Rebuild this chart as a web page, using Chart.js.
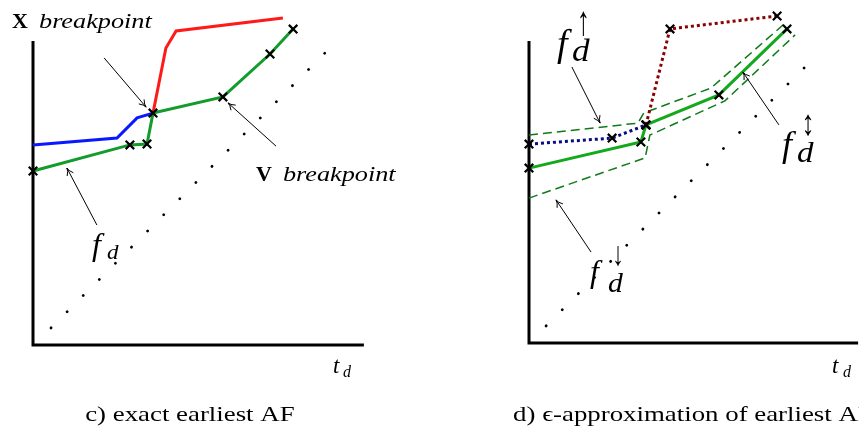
<!DOCTYPE html>
<html>
<head>
<meta charset="utf-8">
<script src="https://cdn.jsdelivr.net/npm/chart.js@4.4.1/dist/chart.umd.min.js"></script>
<style>
  html, body { margin: 0; padding: 0; background: #fff; }
  #wrap { position: relative; width: 863px; height: 433px; overflow: hidden; }
  canvas { position: absolute; top: 0; }
</style>
</head>
<body>
<div id="wrap">
  <canvas id="panel-c" width="431" height="433" style="left:0"></canvas>
  <canvas id="panel-d" width="432" height="433" style="left:431px"></canvas>
</div>
<script>
// values in plot units (origin = corner of the axes)
// c) exact earliest AF
const cExact = [[0, 5.8], [3.23, 6.67], [3.8, 6.7], [4.0, 7.73], [6.33, 8.27], [7.9, 9.7], [8.67, 10.53]];
const cViaV = [[0, 6.67], [2.8, 6.9], [3.47, 7.57], [4.0, 7.73]];
const cViaX = [[4.0, 7.73], [4.43, 9.9], [4.77, 10.47], [8.33, 10.9]];
const cDiagonal = [[0.6, 0.57], [9.73, 9.73]];

// d) epsilon-approximation
const dMid = [[0, 5.83], [3.73, 6.7], [3.9, 7.27], [6.33, 8.27], [8.6, 10.47]];
const dLowerPart = [[0, 6.63], [2.77, 6.83], [3.9, 7.27]];
const dUpperPart = [[3.9, 7.27], [4.7, 10.47], [8.27, 10.9]];
const dBandTop = [[0, 6.93], [3.63, 7.33], [3.83, 7.67], [6.07, 8.5], [8.5, 10.63]];
const dBandBottom = [[0, 4.83], [3.87, 6.17], [4.03, 6.93], [6.53, 8.07], [8.87, 10.27]];
const dDiagonal = [[0.57, 0.57], [9.67, 9.67]];

const PX = 30;          // pixels per unit
const H = 433;
const serif = '"Liberation Serif", "DejaVu Serif", serif';

const pts = (arr) => arr.map(([x, y]) => ({ x, y }));

const cross = {
  pointStyle: 'crossRot',
  pointRadius: 6,
  pointBorderColor: '#000',
  pointBorderWidth: 2.2,
};
const noPoints = { pointRadius: 0 };

function dots(data) {
  return {
    data: pts(data), borderColor: '#000', borderWidth: 2.8,
    borderDash: [0.1, 22.7], borderCapStyle: 'round', order: 9, ...noPoints,
  };
}

const sketch = {
  id: 'sketch',
  beforeDatasetsDraw(chart, args, opts) {
    const { ctx, scales: { x, y } } = chart;
    ctx.save();
    ctx.strokeStyle = '#000';
    ctx.lineWidth = 3;
    ctx.lineJoin = 'miter';
    ctx.beginPath();
    ctx.moveTo(x.getPixelForValue(0), y.getPixelForValue(opts.axisTop));
    ctx.lineTo(x.getPixelForValue(0), y.getPixelForValue(0));
    ctx.lineTo(x.getPixelForValue(opts.axisRight), y.getPixelForValue(0));
    ctx.stroke();
    ctx.restore();
  },
  afterDatasetsDraw(chart, args, opts) {
    const { ctx, scales: { x, y } } = chart;
    ctx.save();
    ctx.strokeStyle = '#000';
    ctx.fillStyle = '#000';
    ctx.lineWidth = 1;
    // annotation arrows
    opts.arrows.forEach(([from, to]) => {
      const x0 = x.getPixelForValue(from[0]), y0 = y.getPixelForValue(from[1]);
      const x1 = x.getPixelForValue(to[0]), y1 = y.getPixelForValue(to[1]);
      const a = Math.atan2(y1 - y0, x1 - x0);
      ctx.beginPath();
      ctx.moveTo(x0, y0);
      ctx.lineTo(x1, y1);
      ctx.moveTo(x1 - 8 * Math.cos(a - 0.45), y1 - 8 * Math.sin(a - 0.45));
      ctx.quadraticCurveTo(x1 - 3 * Math.cos(a), y1 - 3 * Math.sin(a), x1, y1);
      ctx.quadraticCurveTo(x1 - 3 * Math.cos(a), y1 - 3 * Math.sin(a),
        x1 - 8 * Math.cos(a + 0.45), y1 - 8 * Math.sin(a + 0.45));
      ctx.stroke();
    });
    // labels (sx/sy stretch the glyphs a little towards the TeX look)
    ctx.textBaseline = 'alphabetic';
    opts.texts.forEach((t) => {
      ctx.save();
      if (t.clipX !== undefined) {
        // the source figure is cut off at its right edge
        ctx.beginPath();
        ctx.rect(0, 0, x.getPixelForValue(t.clipX), chart.height);
        ctx.clip();
      }
      ctx.font = t.font;
      ctx.textAlign = t.align || 'left';
      ctx.translate(x.getPixelForValue(t.x), y.getPixelForValue(t.y));
      ctx.scale(t.sx || 1, t.sy || 1);
      ctx.fillText(t.text, 0, 0);
      ctx.restore();
    });
    ctx.restore();
  },
};

function makePanel(id, width, origin, datasets, annot) {
  const ctx = document.getElementById(id);
  return new Chart(ctx, {
    type: 'scatter',
    data: { datasets },
    options: {
      responsive: false,
      animation: false,
      events: [],
      layout: { padding: 0, autoPadding: false },
      scales: {
        x: { type: 'linear', display: false, min: -origin[0] / PX, max: (width - origin[0]) / PX },
        y: { type: 'linear', display: false, min: -(H - origin[1]) / PX, max: origin[1] / PX },
      },
      plugins: {
        legend: { display: false },
        tooltip: { enabled: false },
        sketch: annot,
      },
    },
    plugins: [sketch],
  });
}

const line = (data, color, extra) => ({
  data: pts(data), showLine: true, borderColor: color, borderWidth: 3,
  clip: false, ...extra,
});

makePanel('panel-c', 431, [33, 345], [
  line(cExact, '#139b2b', { order: 0, ...cross }),
  line(cViaV, '#0a18ff', { order: 2, ...noPoints }),
  line(cViaX, '#ff1a1a', { order: 1, ...noPoints }),
  { ...dots(cDiagonal), showLine: true },
], {
  axisTop: 10.13,
  axisRight: 11.03,
  arrows: [
    [[2.37, 9.57], [3.77, 7.93]],
    [[8.1, 6.63], [6.5, 8.07]],
    [[2.13, 4.0], [1.13, 5.9]],
  ],
  texts: [
    { text: 'X', x: -0.7, y: 10.57, font: `bold 20px ${serif}`, sx: 1.1 },
    { text: 'breakpoint', x: 0.2, y: 10.57, font: `italic 21px ${serif}`, sx: 1.25 },
    { text: 'V', x: 7.43, y: 5.47, font: `bold 20px ${serif}`, sx: 1.1 },
    { text: 'breakpoint', x: 8.33, y: 5.47, font: `italic 21px ${serif}`, sx: 1.25 },
    { text: 'f', x: 1.97, y: 3.0, font: `italic 32px ${serif}` },
    { text: 'd', x: 2.47, y: 2.87, font: `italic 21px ${serif}`, sx: 1.1 },
    { text: 't', x: 10.0, y: -0.93, font: `italic 23px ${serif}` },
    { text: 'd', x: 10.33, y: -1.07, font: `italic 16px ${serif}` },
    { text: 'c) exact earliest AF', x: 5.23, y: -2.53, font: `22px ${serif}`, align: 'center', sx: 1.22 },
  ],
});

makePanel('panel-d', 432, [98, 343], [
  line(dMid, '#13a91d', { order: 1, ...cross }),
  line(dLowerPart, '#0b0b85', { order: 0, borderDash: [3, 3], ...cross }),
  line(dUpperPart, '#8b0000', { order: 0, borderDash: [3, 3], ...cross }),
  line(dBandTop, '#0f7a1a', { order: 3, borderWidth: 1.5, borderDash: [9, 5], ...noPoints }),
  line(dBandBottom, '#0f7a1a', { order: 3, borderWidth: 1.5, borderDash: [9, 5], ...noPoints }),
  { ...dots(dDiagonal), showLine: true },
], {
  axisTop: 10.07,
  axisRight: 10.97,
  arrows: [
    [[1.43, 9.2], [2.37, 7.33]],
    [[8.33, 7.27], [7.13, 9.03]],
    [[2.07, 3.03], [0.9, 4.77]],
  ],
  texts: [
    { text: 'f', x: 0.93, y: 9.57, font: `italic 38px ${serif}` },
    { text: 'd', x: 1.43, y: 9.4, font: `italic 32px ${serif}`, sx: 1.1 },
    { text: '\u2191', x: 1.82, y: 10.27, font: `26px ${serif}`, align: 'center', sy: 1.6 },
    { text: 'f', x: 8.43, y: 6.23, font: `italic 36px ${serif}` },
    { text: 'd', x: 8.93, y: 6.03, font: `italic 30px ${serif}`, sx: 1.1 },
    { text: '\u2195', x: 9.3, y: 6.93, font: `26px ${serif}`, align: 'center', sy: 1.4 },
    { text: 'f', x: 2.03, y: 2.03, font: `italic 32px ${serif}` },
    { text: 'd', x: 2.63, y: 1.7, font: `italic 27px ${serif}`, sx: 1.1 },
    { text: '\u2193', x: 2.97, y: 2.6, font: `24px ${serif}`, align: 'center', sy: 1.4 },
    { text: 't', x: 10.1, y: -1.0, font: `italic 23px ${serif}` },
    { text: 'd', x: 10.47, y: -1.13, font: `italic 16px ${serif}` },
    { text: 'd) \u03f5-approximation of earliest AF', x: -0.53, y: -2.6, font: `22px ${serif}`, sx: 1.22, clipX: 11.0 },
  ],
});
</script>
</body>
</html>
